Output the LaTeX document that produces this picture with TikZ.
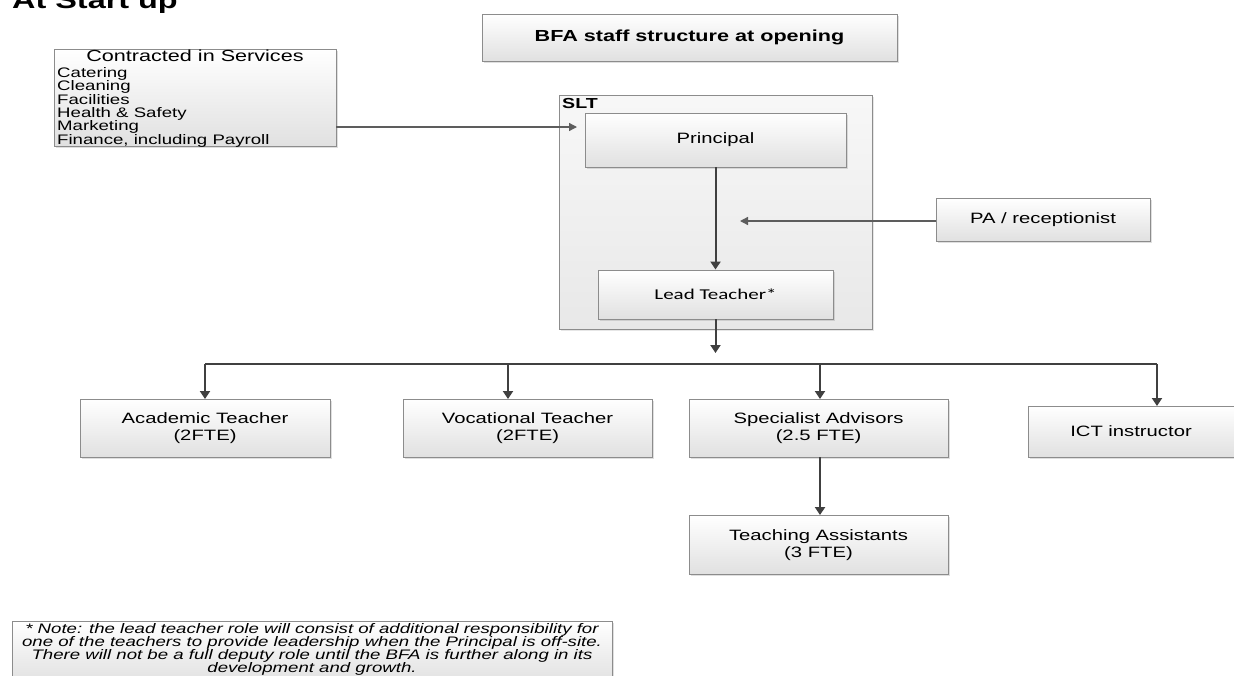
\documentclass[tikz,border=0pt]{standalone}
\usepackage{fontspec}
\setmainfont{Liberation Sans}[FakeStretch=1.35]
\newfontfamily\calfont{Carlito}[FakeStretch=1.4]
\usetikzlibrary{arrows.meta,shadows}
\definecolor{edge}{HTML}{8C8C8C}
\definecolor{wire}{HTML}{404040}
\tikzset{
  box/.style={draw=edge, line width=0.9pt, top color=white, bottom color=black!12,
    drop shadow={shadow xshift=1.5pt,shadow yshift=-1.5pt,opacity=0.25},
    inner sep=0pt, align=center, font=\fontsize{15}{17.5}\selectfont},
  group/.style={draw=edge, line width=0.9pt, top color=black!3, bottom color=black!9,
    drop shadow={shadow xshift=1.5pt,shadow yshift=-1.5pt,opacity=0.2}, inner sep=0pt},
  link/.style={draw=wire, line width=2pt, -{Triangle[width=10pt,length=8pt]}},
  feed/.style={draw=wire!85, line width=1.3pt, -{Triangle[width=8pt,length=8pt]}},
  bus/.style={draw=wire, line width=1.6pt},
}
\begin{document}
\begin{tikzpicture}[x=1pt,y=-1pt]
\useasboundingbox (0,0) rectangle (1234,675);

% heading
\node[anchor=base west, inner sep=0pt, font=\fontsize{24}{28}\selectfont\bfseries] (head) at (12,8) {At Start up};

% title box
\node[box, minimum width=415pt, minimum height=47pt, font=\fontsize{16}{18}\selectfont\bfseries] (title) at (689.5,37.5) {BFA staff structure at opening};

% contracted services
\node[box, minimum width=282pt, minimum height=97pt] (svc) at (195,97.5) {};
\node[inner sep=0pt, font=\fontsize{16}{18}\selectfont] (svctitle) at (195,56) {Contracted in Services};
\node[anchor=north west, inner sep=0pt, align=left, font=\fontsize{13.8}{13.2}\selectfont] (svclist) at (57,67.5)
  {Catering\\Cleaning\\Facilities\\Health \& Safety\\Marketing\\[1pt]Finance, including Payroll};

% senior leadership team
\node[group, minimum width=313pt, minimum height=234pt] (slt) at (715.5,212) {};
\node[anchor=north west, inner sep=0pt, font=\fontsize{14.5}{16}\selectfont\bfseries] (sltlabel) at (562,98) {SLT};
\node[box, minimum width=261pt, minimum height=54pt] (prin) at (715.5,140) {Principal};
\node[box, minimum width=235pt, minimum height=49pt, font=\calfont\fontsize{15}{17}\selectfont] (lead) at (715.5,294.5) {Lead Teacher*};
\node[box, minimum width=214pt, minimum height=43pt] (pa) at (1043,219.5) {PA / receptionist};

\coordinate (svcin) at (577,127);
\coordinate (paend) at (740,221);
\coordinate (drop) at (715.5,353);
\coordinate (rail) at (0,364);

\draw[feed] (svc.east |- svcin) -- (svcin);
\draw[feed] (pa.west |- paend) -- (paend);
\draw[link] (prin) -- (lead);
\draw[link] (lead) -- (drop);

% staff row
\node[box, minimum width=250pt, minimum height=58pt] (acad) at (205,428) {Academic Teacher\\(2FTE)};
\node[box, minimum width=249pt, minimum height=58pt] (voc) at (527.5,428) {Vocational Teacher\\(2FTE)};
\node[box, minimum width=259pt, minimum height=58pt] (spec) at (818.5,428) {Specialist Advisors\\(2.5 FTE)};
\node[box, minimum width=206pt, minimum height=51pt] (ict) at (1131,431.5) {ICT instructor};
\node[box, minimum width=259pt, minimum height=59pt] (ta) at (818.5,545) {Teaching Assistants\\(3 FTE)};

\coordinate (acadtop) at (205,399);
\coordinate (voctop) at (508,399);
\coordinate (spectop) at (820,399);
\coordinate (icttop) at (1157,406);

\draw[bus] (acadtop |- rail) -- (icttop |- rail);
\draw[link] (acadtop |- rail) -- (acadtop);
\draw[link] (voctop |- rail) -- (voctop);
\draw[link] (spectop |- rail) -- (spectop);
\draw[link] (icttop |- rail) -- (icttop);
\draw[link] (spec.south -| spectop) -- (ta.north -| spectop);

% footnote
\node[box, minimum width=600pt, minimum height=62pt, anchor=north] (note) at (312,621) {};
\node[anchor=north, inner sep=0pt, align=center, font=\fontsize{13.8}{12.9}\selectfont\itshape] (notetext) at (312,623.5)
  {* Note: the lead teacher role will consist of additional responsibility for\\
   one of the teachers to provide leadership when the Principal is off-site.\\
   There will not be a full deputy role until the BFA is further along in its\\
   development and growth.};
\end{tikzpicture}
\end{document}
